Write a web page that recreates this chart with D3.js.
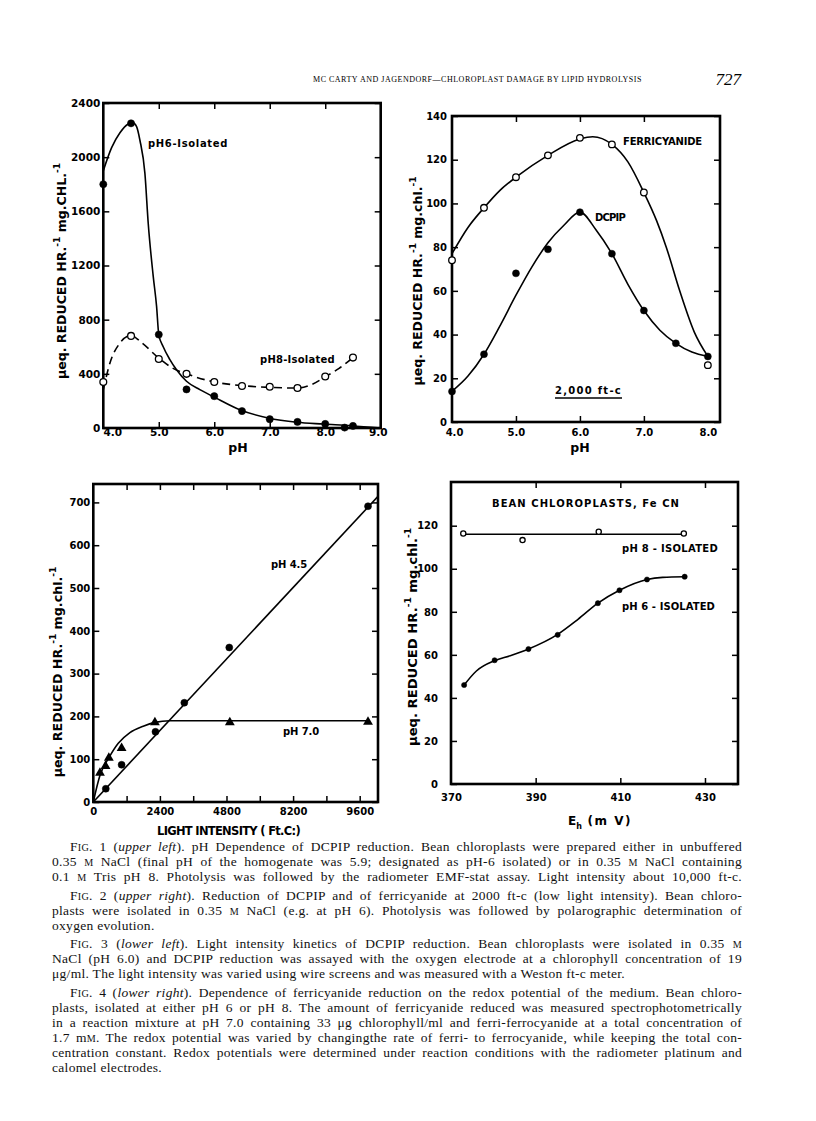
<!DOCTYPE html>
<html><head><meta charset="utf-8">
<script src="https://cdn.jsdelivr.net/npm/d3@7"></script>
<style>body{margin:0;background:#fff}svg{display:block}</style>
</head><body>
<svg id="page" width="816" height="1121"></svg>
<script>
// ================= DATA =================
// Fig. 1 (upper left)
const fig1XTicks = [4, 5, 6, 7, 8, 9];
const fig1XTickLabels = ["4.0", "5.0", "6.0", "7.0", "8.0", "9.0"];
const fig1YTicks = [0, 400, 800, 1200, 1600, 2000, 2400];
const fig1Ph6X = [4.0, 4.5, 5.0, 5.5, 6.0, 6.5, 7.0, 7.5, 8.0, 8.35, 8.5];
const fig1Ph6Y = [1800, 2250, 690, 285, 235, 125, 65, 45, 30, 3, 15];
const fig1Ph6CurveX = [4.0, 4.15, 4.3, 4.45, 4.53, 4.6, 4.66, 4.75, 4.81, 4.9, 4.96, 5.0, 5.08, 5.2, 5.32, 5.5, 5.74, 6.0, 6.46, 6.97, 7.49, 7.97, 8.47, 9.0];
const fig1Ph6CurveY = [1900, 2070, 2180, 2245, 2255, 2225, 2125, 1880, 1510, 1120, 900, 690, 600, 505, 430, 345, 283, 228, 135, 74, 42, 29, 17, 0];
const fig1Ph8X = [4.0, 4.5, 5.0, 5.5, 6.0, 6.5, 7.0, 7.5, 8.0, 8.5];
const fig1Ph8Y = [340, 680, 510, 400, 340, 310, 305, 295, 380, 520];
const fig1Ph8CurveX = [4.0, 4.12, 4.3, 4.5, 4.7, 5.0, 5.25, 5.5, 6.0, 6.5, 7.0, 7.5, 7.75, 8.0, 8.25, 8.5];
const fig1Ph8CurveY = [283, 480, 627, 683, 627, 516, 442, 400, 340, 313, 300, 295, 320, 378, 440, 520];

// Fig. 2 (upper right)
const fig2XTicks = [4, 5, 6, 7, 8];
const fig2XTickLabels = ["4.0", "5.0", "6.0", "7.0", "8.0"];
const fig2YTicks = [0, 20, 40, 60, 80, 100, 120, 140];
const fig2FerriX = [4.0, 4.5, 5.0, 5.5, 6.0, 6.5, 7.0, 8.0];
const fig2FerriY = [74, 98, 112, 122, 130, 127, 105, 26];
const fig2FerriCurveX = [4.0, 4.25, 4.5, 4.75, 5.0, 5.5, 6.0, 6.2, 6.5, 6.75, 7.0, 7.2, 7.35, 7.56, 7.79, 8.0];
const fig2FerriCurveY = [77, 89, 98, 106, 112, 122, 129.5, 130.5, 127, 119, 105, 92, 80, 60, 41, 30];
const fig2DcpipX = [4.0, 4.5, 5.0, 5.5, 6.0, 6.5, 7.0, 7.5, 8.0];
const fig2DcpipY = [14, 31, 68, 79, 96, 77, 51, 36, 30];
const fig2DcpipCurveX = [4.0, 4.25, 4.5, 4.75, 5.0, 5.25, 5.5, 5.75, 6.0, 6.25, 6.5, 6.75, 7.0, 7.25, 7.5, 7.75, 8.0];
const fig2DcpipCurveY = [14, 21, 31, 44, 58, 71, 82, 90, 96, 88, 77, 63, 51, 42, 36, 32, 30];

// Fig. 3 (lower left)
const fig3XLabelTicks = [0, 2400, 4800, 7200, 9600];
const fig3XTickLabels = ["0", "2400", "4800", "8200", "9600"];
const fig3XTicks = [1200, 2400, 3600, 4800, 6000, 7200, 8400, 9600];
const fig3YTicks = [0, 100, 200, 300, 400, 500, 600, 700];
const fig3Ph45X = [450, 1020, 2240, 3280, 4900, 9900];
const fig3Ph45Y = [31, 87, 164, 232, 361, 691];
const fig3Ph45LineX = [0, 10260];
const fig3Ph45LineY = [0, 714];
const fig3Ph70X = [240, 440, 560, 1020, 2220, 4920, 9900];
const fig3Ph70Y = [68, 84, 103, 126, 186, 186, 187];
const fig3Ph70CurveX = [0, 250, 560, 900, 1320, 1800, 2220, 2760, 9900];
const fig3Ph70CurveY = [0, 64, 103, 137, 162, 177, 186, 190, 190];

// Fig. 4 (lower right)
const fig4XTicks = [370, 390, 410, 430];
const fig4YTicks = [0, 20, 40, 60, 80, 100, 120];
const fig4Ph8X = [372.9, 386.9, 404.9, 425];
const fig4Ph8Y = [116.4, 113.3, 117.2, 116.4];
const fig4Ph8LineX = [372.9, 425];
const fig4Ph8LineY = [116, 116];
const fig4Ph6X = [373.1, 380.3, 388.3, 395.2, 404.7, 409.8, 416.3, 425.2];
const fig4Ph6Y = [46, 57.5, 62.7, 69.3, 84, 90, 95, 96.3];
const fig4Ph6CurveX = [373.1, 376, 380.3, 384, 388.3, 395.2, 400, 404.7, 409.8, 416.3, 420, 425.2];
const fig4Ph6CurveY = [46, 52.5, 57.3, 59.6, 62.7, 69.5, 76.5, 84, 90, 95, 96, 96.3];

// ================= DRAWING =================
const SANS = "'DejaVu Sans', Verdana, sans-serif";
const SERIF = "'Liberation Serif', 'Times New Roman', serif";
const svg = d3.select('#page');
svg.append('rect').attr('width', 816).attr('height', 1121).attr('fill', '#fff');

function fitSpacing(sel, target) {
  const n = sel.node();
  const len = n.getComputedTextLength();
  const chars = n.textContent.length;
  sel.attr('letter-spacing', ((target - len) / chars).toFixed(2));
  return sel;
}

function chart(c) {
  const g = svg.append('g');
  const x = d3.scaleLinear().domain(c.xDomain).range(c.xRange);
  const y = d3.scaleLinear().domain(c.yDomain).range(c.yRange);
  const [x0, x1] = c.xRange, [y0, y1] = c.yRange;
  const tk = 6;
  const styleTicks = s => { s.select('.domain').remove(); s.selectAll('line').attr('stroke', '#000').attr('stroke-width', 1.5); };
  g.append('g').attr('transform', `translate(0,${y0})`).call(d3.axisBottom(x).tickValues(c.xTicks).tickSize(-tk).tickFormat('')).call(styleTicks);
  g.append('g').attr('transform', `translate(0,${y1})`).call(d3.axisTop(x).tickValues(c.xTicks).tickSize(-tk).tickFormat('')).call(styleTicks);
  g.append('g').attr('transform', `translate(${x0},0)`).call(d3.axisLeft(y).tickValues(c.yTicks).tickSize(-tk).tickFormat('')).call(styleTicks);
  g.append('g').attr('transform', `translate(${x1},0)`).call(d3.axisRight(y).tickValues(c.yTicks).tickSize(-tk).tickFormat('')).call(styleTicks);
  const xl = g.append('g').attr('transform', `translate(0,${y0})`)
    .call(d3.axisBottom(x).tickValues(c.xLabelTicks).tickSize(0).tickPadding(c.xPad).tickFormat((d, i) => c.xLabels[i]));
  xl.select('.domain').remove();
  xl.attr('font-family', SANS).attr('font-size', c.fs).attr('font-weight', 'bold');
  if (c.xShift) xl.selectAll('text').attr('dx', (d, i) => c.xShift[i] || 0);
  const yl = g.append('g').attr('transform', `translate(${x0},0)`)
    .call(d3.axisLeft(y).tickValues(c.yTicks).tickSize(0).tickPadding(c.yPad).tickFormat(d3.format('d')));
  yl.select('.domain').remove();
  yl.attr('font-family', SANS).attr('font-size', c.fs).attr('font-weight', 'bold');
  g.append('rect').attr('x', x0).attr('y', y1).attr('width', x1 - x0).attr('height', y0 - y1)
    .attr('fill', 'none').attr('stroke', '#000').attr('stroke-width', 2.6);
  return { g, x, y };
}

function curve(ch, xs, ys, dash, curveType) {
  const line = d3.line().x(d => ch.x(d[0])).y(d => ch.y(d[1])).curve(curveType || d3.curveMonotoneX);
  ch.g.append('path').attr('d', line(d3.zip(xs, ys))).attr('fill', 'none').attr('stroke', '#000')
    .attr('stroke-width', 1.6).attr('stroke-dasharray', dash || null);
}
function dots(ch, xs, ys, r, open) {
  ch.g.selectAll(null).data(d3.zip(xs, ys)).enter().append('circle')
    .attr('cx', d => ch.x(d[0])).attr('cy', d => ch.y(d[1])).attr('r', r)
    .attr('fill', open ? '#fff' : '#000').attr('stroke', '#000').attr('stroke-width', open ? 1.3 : 0.5);
}
function tris(ch, xs, ys, size) {
  ch.g.selectAll(null).data(d3.zip(xs, ys)).enter().append('path')
    .attr('d', d3.symbol(d3.symbolTriangle).size(size))
    .attr('transform', d => `translate(${ch.x(d[0])},${ch.y(d[1])})`).attr('fill', '#000');
}
function label(txt, x, y, fs, width, anchor) {
  const t = svg.append('text').attr('x', x).attr('y', y).attr('font-family', SANS)
    .attr('font-size', fs).attr('font-weight', 'bold').attr('text-anchor', anchor || 'start').text(txt);
  if (width) fitSpacing(t, width);
  return t;
}
function yTitle(xBase, yc, target, unit) {
  const t = svg.append('text').attr('transform', `translate(${xBase},${yc}) rotate(-90)`)
    .attr('font-family', SANS).attr('font-size', 12).attr('font-weight', 'bold').attr('text-anchor', 'middle');
  t.append('tspan').text('\u03bceq. REDUCED HR.');
  t.append('tspan').attr('font-size', 9).attr('dy', -6).text('-1');
  t.append('tspan').attr('dy', 6).text(' mg.' + unit);
  t.append('tspan').attr('font-size', 9).attr('dy', -6).text('-1');
  const len = t.node().getComputedTextLength();
  t.attr('font-size', (12 * target / len).toFixed(2));
  return t;
}

// ---------- Fig 1 ----------
const c1 = chart({ xDomain: [4, 9], xRange: [103.3, 380.7], yDomain: [0, 2400], yRange: [428, 103],
  xTicks: [5, 6, 7, 8], yTicks: fig1YTicks, xLabelTicks: fig1XTicks, xLabels: fig1XTickLabels,
  xPad: 1, yPad: 3, fs: 10.5, xShift: [9, 0, 0, 0, 0, -3] });
curve(c1, fig1Ph6CurveX, fig1Ph6CurveY);
curve(c1, fig1Ph8CurveX, fig1Ph8CurveY, '8,5');
dots(c1, fig1Ph6X, fig1Ph6Y, 3.6, false);
dots(c1, fig1Ph8X, fig1Ph8Y, 3.4, true);
label('pH6-Isolated', 148, 147, 10, 80);
label('pH8-Isolated', 260, 363, 10, 75);
yTitle(66, 271, 217, 'CHL.');
label('pH', 238, 452, 12.5, null, 'middle');

// ---------- Fig 2 ----------
const c2 = chart({ xDomain: [4, 8.19], xRange: [452, 720], yDomain: [0, 140], yRange: [422, 116],
  xTicks: [5, 6, 7], yTicks: fig2YTicks, xLabelTicks: fig2XTicks, xLabels: fig2XTickLabels,
  xPad: 7, yPad: 5, fs: 10, xShift: [2, 0, 0, 0, 0] });
curve(c2, fig2FerriCurveX, fig2FerriCurveY);
curve(c2, fig2DcpipCurveX, fig2DcpipCurveY);
dots(c2, fig2FerriX, fig2FerriY, 3.3, true);
dots(c2, fig2DcpipX, fig2DcpipY, 3.5, false);
label('FERRICYANIDE', 623, 145, 10, 79);
label('DCPIP', 595, 221, 10, 30);
label('2,000 ft-c', 555, 394, 10, 67);
svg.append('line').attr('x1', 555).attr('x2', 622).attr('y1', 398).attr('y2', 398).attr('stroke', '#000').attr('stroke-width', 1.3);
yTitle(422, 281, 210, 'chl.');
label('pH', 580, 452, 12.5, null, 'middle');

// ---------- Fig 3 ----------
const c3 = chart({ xDomain: [0, 10260], xRange: [93.3, 378], yDomain: [0, 743], yRange: [802, 484],
  xTicks: fig3XTicks, yTicks: fig3YTicks, xLabelTicks: fig3XLabelTicks, xLabels: fig3XTickLabels,
  xPad: 6, yPad: 3, fs: 10 });
curve(c3, fig3Ph45LineX, fig3Ph45LineY, null, d3.curveLinear);
curve(c3, fig3Ph70CurveX, fig3Ph70CurveY);
dots(c3, fig3Ph45X, fig3Ph45Y, 3.5, false);
tris(c3, fig3Ph70X, fig3Ph70Y, 42);
label('pH 4.5', 271, 568, 10, 36);
label('pH 7.0', 283, 735, 10, 36);
yTitle(62, 672, 212, 'chl.');
label('LIGHT INTENSITY ( Ft.C:)', 157, 835, 11.5, 143);

// ---------- Fig 4 ----------
const c4 = chart({ xDomain: [370, 437.8], xRange: [451, 738], yDomain: [0, 140.3], yRange: [784, 482],
  xTicks: [390, 410, 430], yTicks: fig4YTicks, xLabelTicks: fig4XTicks, xLabels: fig4XTicks.map(String),
  xPad: 10, yPad: 13, fs: 10 });
curve(c4, fig4Ph8LineX, fig4Ph8LineY, null, d3.curveLinear);
curve(c4, fig4Ph6CurveX, fig4Ph6CurveY);
dots(c4, fig4Ph8X, fig4Ph8Y, 2.6, true);
dots(c4, fig4Ph6X, fig4Ph6Y, 2.6, false);
label('BEAN CHLOROPLASTS, Fe CN', 492, 507, 10, 188);
label('pH 8 - ISOLATED', 622, 552, 10, 96);
label('pH 6 - ISOLATED', 622, 610, 10, 93);
yTitle(417, 637, 220, 'chl.');
{
  const t = svg.append('text').attr('x', 568).attr('y', 825).attr('font-family', SANS).attr('font-size', 12).attr('font-weight', 'bold');
  t.append('tspan').text('E');
  t.append('tspan').attr('font-size', 8).attr('dy', 4).text('h');
  t.append('tspan').attr('dy', -4).attr('letter-spacing', 1.5).text(' (m V)');
}

// ---------- Header ----------
{
  const h = svg.append('text').attr('x', 313).attr('y', 82).attr('font-family', SERIF).attr('font-size', 10)
    .text('MC CARTY AND JAGENDORF\u2014CHLOROPLAST DAMAGE BY LIPID HYDROLYSIS');
  const len = h.node().getComputedTextLength();
  const chars = h.node().textContent.length;
  const ls = 0.5;
  h.attr('font-size', (10 * (329 - ls * chars) / len).toFixed(2)).attr('letter-spacing', ls);
  svg.append('text').attr('x', 741).attr('y', 85).attr('text-anchor', 'end').attr('font-family', SERIF)
    .attr('font-size', 17).attr('font-style', 'italic').text('727');
}

// ---------- Captions ----------
const RIGHT = 742, LEFT = 52, INDENT = 70, CAP_LS = 0.3, CAP_FS = 13.5;
const captionLines = [
  [[['F', 'n'], ['IG', 'sc'], ['. 1 (', 'n'], ['upper left', 'i'], ['). pH Dependence of DCPIP reduction. Bean chloroplasts were prepared either in unbuffered', 'n']], INDENT, 851, true],
  [[['0.35 ', 'n'], ['M', 'sc'], [' NaCl (final pH of the homogenate was 5.9; designated as pH-6 isolated) or in 0.35 ', 'n'], ['M', 'sc'], [' NaCl containing', 'n']], LEFT, 866, true],
  [[['0.1 ', 'n'], ['M', 'sc'], [' Tris pH 8. Photolysis was followed by the radiometer EMF-stat assay. Light intensity about 10,000 ft-c.', 'n']], LEFT, 881, true],
  [[['F', 'n'], ['IG', 'sc'], ['. 2 (', 'n'], ['upper right', 'i'], ['). Reduction of DCPIP and of ferricyanide at 2000 ft-c (low light intensity). Bean chloro-', 'n']], INDENT, 900, true],
  [[['plasts were isolated in 0.35 ', 'n'], ['M', 'sc'], [' NaCl (e.g. at pH 6). Photolysis was followed by polarographic determination of', 'n']], LEFT, 915, true],
  [[['oxygen evolution.', 'n']], LEFT, 930, false],
  [[['F', 'n'], ['IG', 'sc'], ['. 3 (', 'n'], ['lower left', 'i'], ['). Light intensity kinetics of DCPIP reduction. Bean chloroplasts were isolated in 0.35 ', 'n'], ['M', 'sc']], INDENT, 948, true],
  [[['NaCl (pH 6.0) and DCPIP reduction was assayed with the oxygen electrode at a chlorophyll concentration of 19', 'n']], LEFT, 963, true],
  [[['\u03bcg/ml. The light intensity was varied using wire screens and was measured with a Weston ft-c meter.', 'n']], LEFT, 978, false],
  [[['F', 'n'], ['IG', 'sc'], ['. 4 (', 'n'], ['lower right', 'i'], ['). Dependence of ferricyanide reduction on the redox potential of the medium. Bean chloro-', 'n']], INDENT, 997, true],
  [[['plasts, isolated at either pH 6 or pH 8. The amount of ferricyanide reduced was measured spectrophotometrically', 'n']], LEFT, 1012, true],
  [[['in a reaction mixture at pH 7.0 containing 33 \u03bcg chlorophyll/ml and ferri-ferrocyanide at a total concentration of', 'n']], LEFT, 1027, true],
  [[['1.7 m', 'n'], ['M', 'sc'], ['. The redox potential was varied by changingthe rate of ferri- to ferrocyanide, while keeping the total con-', 'n']], LEFT, 1042, true],
  [[['centration constant. Redox potentials were determined under reaction conditions with the radiometer platinum and', 'n']], LEFT, 1057, true],
  [[['calomel electrodes.', 'n']], LEFT, 1072, false]
];
captionLines.forEach(([segs, x, yb, just]) => {
  const t = svg.append('text').attr('x', x).attr('y', yb).attr('font-family', SERIF).attr('font-size', CAP_FS)
    .attr('fill', '#111').attr('letter-spacing', CAP_LS);
  segs.forEach(([s, k]) => {
    const ts = t.append('tspan').text(s);
    if (k === 'i') ts.attr('font-style', 'italic');
    if (k === 'sc') ts.attr('font-size', CAP_FS * 0.75);
  });
  if (just) {
    const w = t.node().getComputedTextLength();
    const spaces = (t.text().match(/ /g) || []).length;
    const chars = t.text().length;
    const extra = RIGHT - x - w;
    if (extra < 0) {
      t.attr('letter-spacing', (CAP_LS + extra / chars).toFixed(3));
    } else {
      t.style('word-spacing', (extra / spaces).toFixed(2) + 'px');
    }
  }
});
</script>
</body></html>
